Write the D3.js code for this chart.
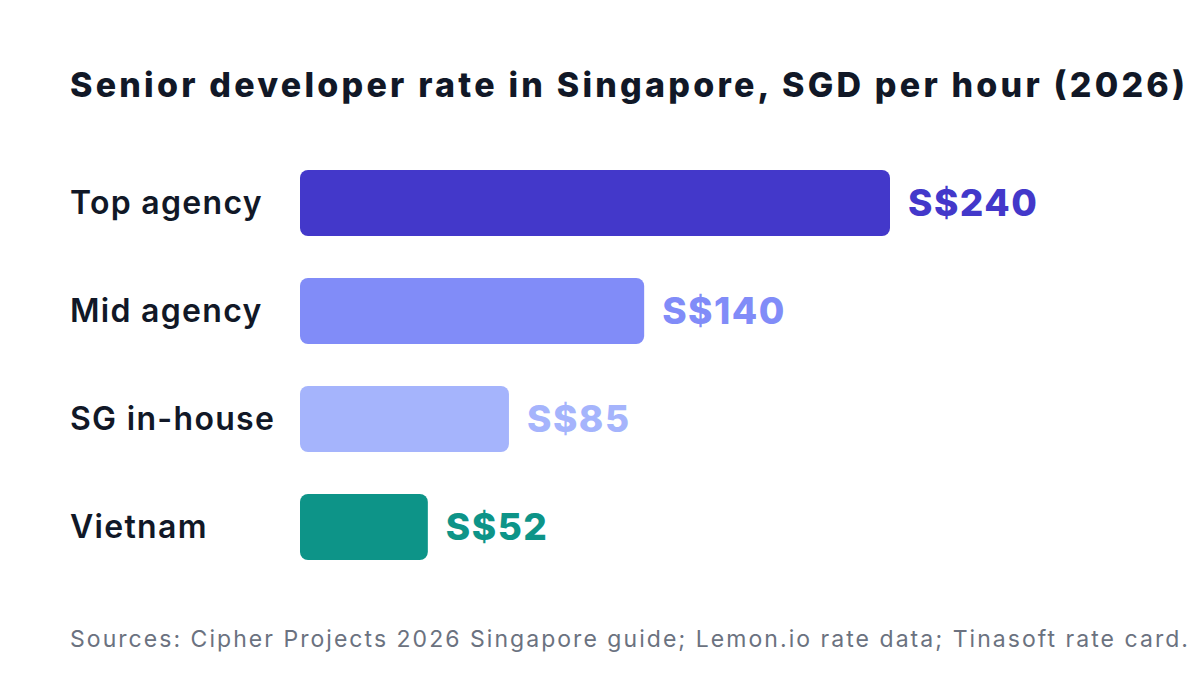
<!DOCTYPE html>
<html><head><meta charset="utf-8">
<script src="https://cdn.jsdelivr.net/npm/d3@7"></script>
<style>body{margin:0;background:#fff}svg{display:block;font-family:Inter,"Noto Sans",sans-serif}</style>
</head><body><svg width="1200" height="675"></svg>
<script>
const categories = ["Top agency", "Mid agency", "SG in-house", "Vietnam"];
const values = [240, 140, 85, 52];
const colors = ["#4338CA", "#818CF8", "#A5B4FC", "#0D9488"];

const svg = d3.select("svg");

svg.append("text").attr("x", 70).attr("y", 97)
  .attr("font-size", 34).attr("font-weight", 800).attr("fill", "#111827")
  .attr("textLength", 1115).attr("lengthAdjust", "spacing")
  .text("Senior developer rate in Singapore, SGD per hour (2026)");

const x = d3.scaleLinear().domain([0, 240]).range([300, 890]);
// step 108, bar 66
const y = d3.scaleBand().domain(categories).range([170, 560]).paddingInner(42 / 108).paddingOuter(0);

const row = svg.selectAll(".row").data(categories).enter().append("g").attr("class", "row");

row.append("rect")
  .attr("x", x(0)).attr("y", d => y(d))
  .attr("width", (d, i) => x(values[i]) - x(0))
  .attr("height", y.bandwidth())
  .attr("rx", 8)
  .attr("fill", (d, i) => colors[i]);

row.append("text")
  .attr("x", 70).attr("y", d => y(d) + y.bandwidth() / 2)
  .attr("dy", "0.35em").attr("font-size", 32).attr("font-weight", 600).attr("fill", "#111827")
  .attr("letter-spacing", 1.3)
  .text(d => d);

row.append("text")
  .attr("x", (d, i) => x(values[i]) + 18).attr("y", d => y(d) + y.bandwidth() / 2)
  .attr("dy", "0.36em").attr("font-size", 37).attr("font-weight", 800)
  .attr("letter-spacing", 1.5)
  .attr("fill", (d, i) => colors[i])
  .text((d, i) => "S$" + values[i]);

svg.append("text").attr("x", 70).attr("y", 647)
  .attr("font-size", 23).attr("fill", "#6B7280")
  .attr("textLength", 1118).attr("lengthAdjust", "spacing")
  .text("Sources: Cipher Projects 2026 Singapore guide; Lemon.io rate data; Tinasoft rate card.");
</script></body></html>
